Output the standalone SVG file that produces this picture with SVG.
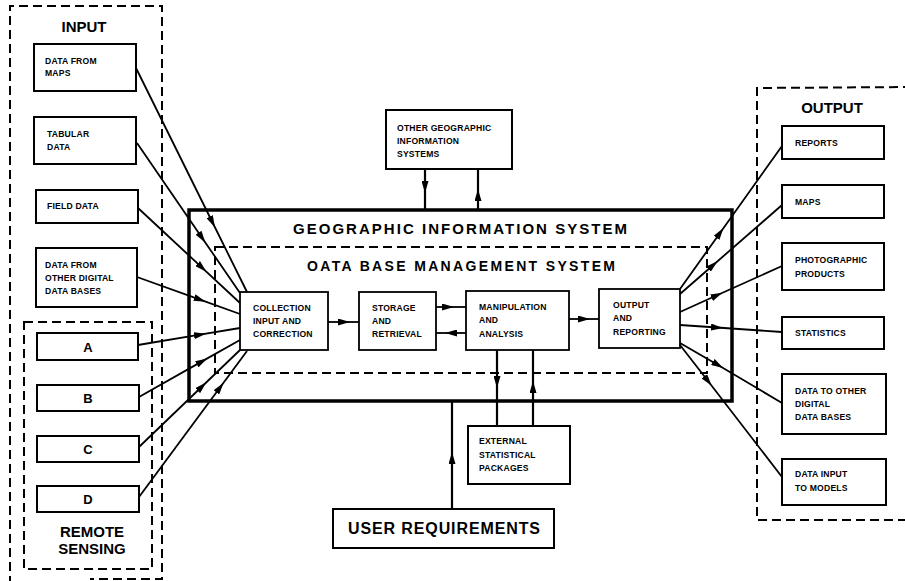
<svg xmlns="http://www.w3.org/2000/svg" width="905" height="581" viewBox="0 0 905 581">
<style>
  .bx{fill:#fff;stroke:#000;stroke-width:2}
  .ib{fill:#fff;stroke:#000;stroke-width:1.8}
  .gis{fill:none;stroke:#000;stroke-width:3.5}
  .dash{fill:none;stroke:#000;stroke-width:2;stroke-dasharray:9 5}
  .ln{fill:none;stroke:#000;stroke-width:1.8;marker-mid:url(#ah)}
  .st{fill:none;stroke:#000;stroke-width:2.2;marker-mid:url(#ah)}
  text{font-family:"Liberation Sans",Arial,sans-serif;font-weight:bold;fill:#000}
  .s{font-size:8.6px;letter-spacing:0.2px}
  .L{font-size:13px;text-anchor:middle}
  .h{font-size:15px;text-anchor:middle}
</style>
<defs>
  <marker id="ah" viewBox="0 0 12 7" refX="6" refY="3.5" markerWidth="12" markerHeight="7" markerUnits="userSpaceOnUse" orient="auto">
    <path d="M0,0 L12,3.5 L0,7 Z" fill="#000"/>
  </marker>
</defs>
<rect width="905" height="581" fill="#fff"/>

<g id="input-panel">
  <path class="dash" d="M10,585 L10,6 L162,6 L162,579 L90,579"/>
  <text class="h" x="84" y="32">INPUT</text>
</g>
<g id="remote-sensing-panel">
  <rect class="dash" x="24" y="322" width="128" height="247"/>
  <text class="h" x="92" y="537">REMOTE</text>
  <text class="h" x="92" y="554">SENSING</text>
</g>
<g id="output-panel">
  <path class="dash" d="M912,87 L757,88 L757,520 L912,520"/>
  <text class="h" x="832" y="113">OUTPUT</text>
</g>

<g id="in-maps"><rect class="bx" x="34" y="44" width="102" height="47"/>
  <text class="s" x="45" y="64">DATA FROM</text><text class="s" x="45" y="76">MAPS</text></g>
<g id="in-tabular"><rect class="bx" x="34" y="117" width="102" height="47"/>
  <text class="s" x="47" y="137">TABULAR</text><text class="s" x="47" y="150">DATA</text></g>
<g id="in-field"><rect class="bx" x="36" y="190" width="102" height="33"/>
  <text class="s" x="47" y="209">FIELD DATA</text></g>
<g id="in-otherdb"><rect class="bx" x="36" y="248" width="101" height="59"/>
  <text class="s" x="45" y="268">DATA FROM</text><text class="s" x="45" y="281">OTHER DIGITAL</text><text class="s" x="45" y="294">DATA BASES</text></g>
<g id="rs-a"><rect class="bx" x="37" y="333" width="101" height="27"/><text class="L" x="88" y="352">A</text></g>
<g id="rs-b"><rect class="bx" x="37" y="385" width="102" height="26"/><text class="L" x="88" y="403">B</text></g>
<g id="rs-c"><rect class="bx" x="37" y="436" width="102" height="26"/><text class="L" x="88" y="454">C</text></g>
<g id="rs-d"><rect class="bx" x="37" y="486" width="102" height="26"/><text class="L" x="88" y="504">D</text></g>

<g id="gis">
  <rect class="gis" x="189" y="210" width="543" height="191"/>
  <text x="460" y="234" font-size="15" text-anchor="middle" textLength="334" lengthAdjust="spacing">GEOGRAPHIC  INFORMATION  SYSTEM</text>
</g>
<g id="dbms">
  <rect class="dash" x="215" y="247" width="492" height="126"/>
  <text x="461" y="271" font-size="14" text-anchor="middle" textLength="308" lengthAdjust="spacing">OATA BASE MANAGEMENT SYSTEM</text>
</g>

<g id="collection"><rect class="ib" x="240" y="292" width="88" height="58"/>
  <text class="s" x="253" y="311">COLLECTION</text><text class="s" x="253" y="324">INPUT AND</text><text class="s" x="253" y="337">CORRECTION</text></g>
<g id="storage"><rect class="ib" x="359" y="292" width="77" height="58"/>
  <text class="s" x="372" y="311">STORAGE</text><text class="s" x="372" y="324">AND</text><text class="s" x="372" y="337">RETRIEVAL</text></g>
<g id="manipulation"><rect class="ib" x="466" y="291" width="103" height="59"/>
  <text class="s" x="479" y="310">MANIPULATION</text><text class="s" x="479" y="323">AND</text><text class="s" x="479" y="337">ANALYSIS</text></g>
<g id="output-reporting"><rect class="ib" x="599" y="289" width="81" height="59"/>
  <text class="s" x="613" y="308">OUTPUT</text><text class="s" x="613" y="321">AND</text><text class="s" x="613" y="335">REPORTING</text></g>

<g id="other-gis"><rect class="bx" x="386" y="110" width="126" height="59"/>
  <text class="s" x="397" y="131">OTHER GEOGRAPHIC</text><text class="s" x="397" y="144">INFORMATION</text><text class="s" x="397" y="157">SYSTEMS</text></g>
<g id="external"><rect class="bx" x="468" y="426" width="102" height="58"/>
  <text class="s" x="479" y="444" letter-spacing="0.8">EXTERNAL</text><text class="s" x="479" y="458">STATISTICAL</text><text class="s" x="479" y="471">PACKAGES</text></g>
<g id="user-req"><rect class="bx" x="333" y="509" width="221" height="39"/>
  <text x="444" y="534" font-size="16" text-anchor="middle" textLength="192" lengthAdjust="spacing">USER REQUIREMENTS</text></g>

<g id="out-reports"><rect class="bx" x="782" y="126" width="102" height="33"/><text class="s" x="795" y="146">REPORTS</text></g>
<g id="out-maps"><rect class="bx" x="782" y="185" width="102" height="33"/><text class="s" x="795" y="205">MAPS</text></g>
<g id="out-photo"><rect class="bx" x="782" y="243" width="102" height="47"/>
  <text class="s" x="795" y="263">PHOTOGRAPHIC</text><text class="s" x="795" y="277">PRODUCTS</text></g>
<g id="out-stats"><rect class="bx" x="782" y="317" width="102" height="32"/><text class="s" x="795" y="336">STATISTICS</text></g>
<g id="out-otherdb"><rect class="bx" x="782" y="374" width="104" height="60"/>
  <text class="s" x="795" y="394">DATA TO OTHER</text><text class="s" x="795" y="407">DIGITAL</text><text class="s" x="795" y="420">DATA BASES</text></g>
<g id="out-models"><rect class="bx" x="782" y="459" width="104" height="46"/>
  <text class="s" x="795" y="477">DATA INPUT</text><text class="s" x="795" y="491">TO MODELS</text></g>

<g id="connectors">
  <polyline class="ln" points="136,68 212.3,222 247,292"/>
  <polyline class="ln" points="137,143 202,237.7 240,293"/>
  <polyline class="ln" points="138,208 202,267.6 240,303"/>
  <polyline class="ln" points="137,277 200,299.6 240,314"/>
  <polyline class="ln" points="138,345 200,334.7 240,328"/>
  <polyline class="ln" points="139,397 202,361.4 240,340"/>
  <polyline class="ln" points="139,447 202,386.5 240,350"/>
  <polyline class="ln" points="139,497 220,387.5 247,351"/>

  <polyline class="ln" points="328,322 344,322 359,322"/>
  <polyline class="ln" points="436,307 448,307 466,307"/>
  <polyline class="ln" points="466,333 451,333 436,333"/>
  <polyline class="ln" points="569,319 584,319 599,319"/>

  <polyline class="st" points="425,169 425,187 425,210"/>
  <polyline class="st" points="478,210 478,195 478,169"/>
  <polyline class="st" points="497,350 497,382 497,426"/>
  <polyline class="st" points="533,426 533,387 533,350"/>
  <polyline class="st" points="452,509 452,458 452,401"/>

  <polyline class="ln" points="680,289 720,233 782,146"/>
  <polyline class="ln" points="680,294 713,265.2 782,205"/>
  <polyline class="ln" points="680,312 717,295.3 782,266"/>
  <polyline class="ln" points="680,325 717,327.5 782,332"/>
  <polyline class="ln" points="680,343 718,365 782,403"/>
  <polyline class="ln" points="680,345 708,381 782,477"/>
</g>
</svg>
